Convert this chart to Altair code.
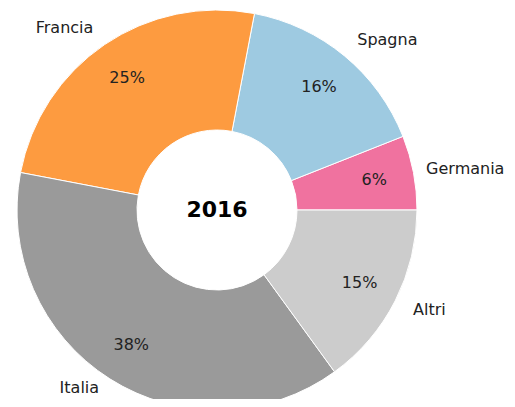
import altair as alt
import pandas as pd

countries = ["Germania", "Spagna", "Francia", "Italia", "Altri"]
values = [6, 16, 25, 38, 15]
colors = ["#f0729f", "#9ecae1", "#fd9b40", "#9a9a9a", "#cccccc"]
year = ["2016"]

df = pd.DataFrame({"country": countries, "value": values, "order": list(range(len(countries)))})
df["pct"] = [f"{v}%" for v in values]

W, H = 499, 391
CX, CY = 209, 202
R_OUT, R_IN = 200, 80
FONT = "DejaVu Sans"

theta_scale = alt.Scale(domain=[0, 100], range=[2.5 * 3.141592653589793, 0.5 * 3.141592653589793])

base = alt.Chart(df).transform_window(
    cum="sum(value)", sort=[{"field": "order"}], frame=[None, 0]
).transform_calculate(
    start="datum.cum - datum.value",
    mid="datum.cum - datum.value / 2",
)

arcs = base.mark_arc(radius=R_OUT, radius2=R_IN, stroke="white", strokeWidth=1).encode(
    x=alt.value(CX),
    y=alt.value(CY),
    theta=alt.Theta("start:Q", scale=theta_scale),
    theta2="cum:Q",
    color=alt.Color("country:N", scale=alt.Scale(domain=countries, range=colors), legend=None),
)

pct = base.mark_text(radius=160, fontSize=16, font=FONT, color="#222222", align="center", baseline="middle").encode(
    x=alt.value(CX),
    y=alt.value(CY),
    theta=alt.Theta("mid:Q", scale=theta_scale),
    text="pct:N",
)

def label_layer(filt, align, dx=0, dy=0):
    return base.transform_filter(filt).mark_text(
        radius=220, fontSize=16, font=FONT, color="#222222", align=align, baseline="middle", dx=dx, dy=dy
    ).encode(
        x=alt.value(CX),
        y=alt.value(CY),
        theta=alt.Theta("mid:Q", scale=theta_scale),
        text="country:N",
    )

left_top = label_layer("datum.mid > 25 && datum.mid < 50", "right")
left_bottom = label_layer("datum.mid >= 50 && datum.mid < 75", "right", dy=-8)
right_first = label_layer("datum.mid < 10", "left", dx=-7)
right_other = label_layer("(datum.mid >= 10 && datum.mid <= 25) || datum.mid >= 75", "left")

center = alt.Chart(pd.DataFrame({"t": year})).mark_text(
    fontSize=22, font=FONT, fontWeight="bold", color="black", align="center", baseline="middle"
).encode(
    x=alt.value(CX),
    y=alt.value(CY),
    text="t:N",
)

chart = alt.layer(arcs, pct, left_top, left_bottom, right_first, right_other, center).properties(
    width=W, height=H, padding=0, autosize=alt.AutoSizeParams(type="none")
).configure_view(stroke=None)

chart.save("out.html", embed_options={"renderer": "svg", "actions": False})
